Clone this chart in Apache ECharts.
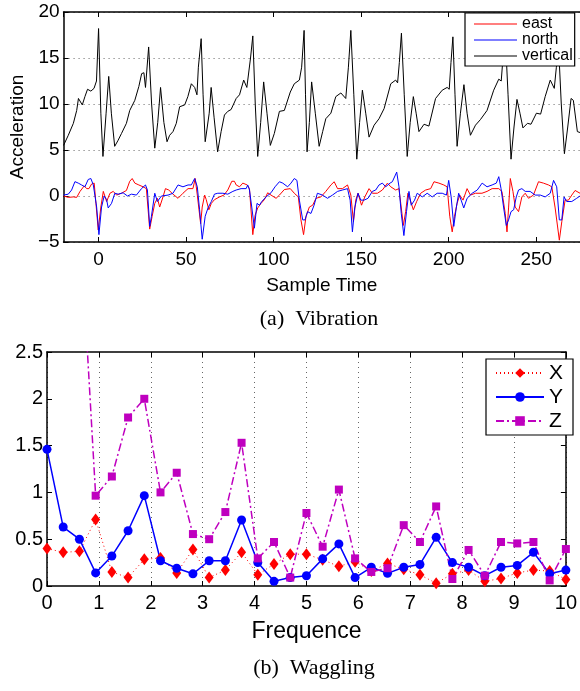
<!DOCTYPE html>
<html><head><meta charset="utf-8">
<script src="https://cdn.jsdelivr.net/npm/echarts@6/dist/echarts.min.js"></script>
<style>html,body{margin:0;padding:0;background:#fff}#c{width:580px;height:691px}</style>
</head><body><div id="c"></div>
<script>
// ---- (a) Vibration : [sample time, acceleration] ----
const eastData = [[-20,0],[-17.3,-0.15],[-14.4,-0.1],[-12.5,-0.15],[-10.6,0.5],[-8.2,1.1],[-6.8,0.8],[-5.5,0.8],[-4,1.3],[-2.5,1.4],[-1.5,-0.8],[-0.2,-3.7],[1.3,-1.2],[2.7,0.5],[3.6,0.65],[4.6,-0.6],[6.5,0.3],[8.4,0.5],[10.3,0.1],[13.1,0.3],[15.9,0.6],[17.8,1.6],[19.2,1.9],[20.7,1.4],[23,1.2],[25.4,1.0],[27.3,0.8],[28.3,-1.5],[29.2,-3.6],[30.6,-2.2],[32.1,-0.8],[33.6,-0.25],[34.9,-1.2],[36.8,-0.1],[38.2,0.8],[40.1,0.65],[42.5,0.2],[45.4,-0.25],[48.2,0.3],[51.1,0.8],[53.9,0.8],[55.2,1.9],[56.4,0.1],[58.3,-3.0],[59.2,-1.2],[60.6,0.1],[61.5,-0.4],[63,-1.5],[64.4,-0.8],[66.2,-0.4],[69.1,-0.1],[71.6,0.1],[73.8,0.65],[76.1,1.6],[77.6,1.6],[78.6,1.2],[80.5,1.0],[82.4,1.4],[84.9,1.2],[86.2,0.8],[88.1,-4.2],[89.4,-2.1],[90.9,-1.3],[92.8,-0.8],[94.7,-0.4],[96.6,0.35],[98.5,0.1],[101.4,-0.25],[103.3,0.1],[106.1,0.7],[109.5,0.8],[111.8,0.3],[114.1,-0.1],[115.6,-2.6],[117.1,-4.2],[118.5,-2.2],[120.4,-1.2],[122.3,-1.0],[124.2,-0.25],[127,-0.1],[129.8,0.5],[132.7,1.2],[134.6,1.55],[136.5,0.8],[139.3,0.8],[142.2,1.2],[144.1,0.1],[145.6,-2.8],[146.9,-0.45],[148.2,0.3],[150.2,-1.0],[152.1,-0.1],[154.5,0.8],[156.4,0.3],[159.3,0.3],[162.1,0.65],[165,1.4],[166.9,1.0],[169.7,0.65],[171.6,0.8],[172.6,-0.8],[174.1,-3.2],[175.4,-1.7],[176.7,0.3],[178.3,-0.6],[179.8,-1.5],[181.7,-0.6],[184,0.3],[186.8,0.65],[189.7,0.8],[191.6,1.55],[194.4,1.4],[197.2,1.2],[199.1,1.0],[200.6,-2.2],[202,-3.9],[203.3,-2.2],[204.8,-0.8],[206.3,0.1],[208.2,-0.45],[210.5,0.8],[212.4,0.1],[215.3,0.3],[219,0.3],[221.9,0.5],[224.8,0.8],[228.6,0.8],[230.4,0.5],[232.3,-1.9],[233.3,-3.9],[234.2,-1.3],[235.2,1.9],[236.7,0.5],[238,-1.2],[239.9,-1.7],[241.8,-0.1],[243.7,0.3],[245.6,-0.25],[248.4,0.1],[251.3,1.55],[254.1,1.4],[257,1.2],[258.9,1.0],[260.8,-1.3],[263.2,-4.8],[264.6,-2.8],[266.5,-0.45],[268.4,-0.45],[270.3,0.1],[272.2,0.6],[275,0.3]];

const northData = [[-20,0.1],[-17.3,0.2],[-15.4,0.65],[-13.5,1.56],[-11.6,1.4],[-9.7,1.2],[-7.8,1.0],[-5.9,1.8],[-4.4,1.9],[-3,1.2],[-1.1,-1.2],[0.2,-4.2],[1.7,-1.2],[3.2,0],[4.6,-0.4],[5.5,-1.3],[7.4,-0.8],[9.3,0.3],[11.2,0.2],[14,0.35],[16.5,0],[18.8,0.2],[21.6,0.1],[24.5,0.8],[26.8,1.2],[27.9,0.65],[29.2,-3.3],[30.2,-2.2],[32.1,0.3],[33.6,-0.6],[35.9,0],[39.7,0.1],[42.5,0.3],[45.4,1.2],[48.2,1.0],[51.1,1.2],[53,1.2],[54.9,1.9],[56.4,1.0],[57.7,-1.5],[59.2,-4.7],[60.9,-2.2],[62.5,-1.3],[64.4,-0.6],[66.2,0.2],[68.1,0.3],[71,0.3],[73.8,0.2],[76.7,0.5],[78.6,0.65],[81.4,0.8],[84.3,0.8],[85.2,1.2],[86.2,0.65],[87.5,-1.2],[89,-3.5],[90.5,-0.8],[91.9,-1.0],[93.2,-0.6],[95.7,-0.1],[98.5,0.35],[100.8,1.0],[103.3,1.55],[105.2,1.4],[108,1.0],[109.9,1.4],[111.8,1.9],[113.3,1.7],[114.7,-0.45],[116.6,-2.6],[117.9,-2.6],[119.4,-1.7],[121.3,-1.9],[123.1,-1.0],[125,0.3],[127.9,0.1],[130.8,-0.25],[133.6,0.1],[136.5,0.5],[139.3,0.65],[142.2,0.8],[143.7,-0.45],[145,-3.9],[146.3,-1.3],[148.2,0.3],[149.8,-0.45],[151.7,-0.45],[153.9,-0.25],[156.4,0.5],[158.3,0.65],[160.2,1.2],[162.1,1.4],[164,1.0],[166.5,1.4],[167.8,1.55],[170.3,2.6],[171.6,1.0],[172.9,-1.9],[174.4,-4.3],[175.9,-1.7],[177.3,0.5],[178.6,-1.0],[180.5,-0.45],[182,0.3],[184.9,-0.1],[187.7,0.3],[190.6,-0.1],[193.4,0.3],[196.3,0.3],[198.7,0.1],[200,1.7],[201.4,-0.1],[202.9,-3.3],[204.4,-1.2],[205.7,0.3],[207.1,-0.45],[208.6,-1.3],[210.5,-0.25],[213.4,0.3],[216.3,0.65],[219.1,1.4],[221.9,1.0],[224.8,1.2],[227.2,1.4],[228.6,2.1],[229.9,0.8],[231.4,-1.3],[232.9,-3.2],[234.2,-2.6],[235.6,-1.7],[237.1,-1.5],[238.6,-0.1],[239.9,0.65],[241.8,0.8],[243.7,0.5],[246.5,0.5],[249.4,0.1],[252.3,0.1],[255.1,-0.1],[258,0.3],[259.9,1.7],[260.8,1.9],[261.7,1.0],[263.2,-2.6],[264.6,-2.6],[265.9,-0.1],[267.4,-0.6],[270.3,-0.6],[273.1,-0.25],[275,0]];

const verticalData = [[-20,5.5],[-17.3,6.6],[-14.4,7.9],[-12.5,9.3],[-11.5,10.6],[-10.5,10.5],[-9.3,9.9],[-7.8,10.8],[-6.3,11.6],[-4.4,11.4],[-2.6,11.7],[-1.2,12.5],[0,18.2],[1.3,9],[2.5,4.3],[4.3,9],[5.8,13.0],[7.3,9],[9.2,5.4],[11,6],[13.1,6.8],[15.9,7.9],[17.8,9.3],[20.7,10.4],[23,11.9],[24.6,13.3],[25.9,13.4],[26.8,11.8],[27.3,11.9],[28.6,16.2],[30.3,10],[32.1,5.2],[33.8,8],[35.4,11.8],[37.3,8],[39.1,5.9],[40.6,6.6],[42.5,7],[44.4,7.9],[46.3,9.7],[49.2,9.9],[51,10.8],[53,12.2],[54.9,11.8],[56.2,11],[57,14],[58.6,17.1],[59.7,11],[60.9,5.9],[62,6.0],[63.2,9],[64.3,11.8],[66,8.5],[68,4.8],[70,7],[71.9,8.8],[73.8,9.2],[75.7,9.4],[78.6,10.6],[80.5,11],[82.9,12.6],[84.7,11.8],[85.8,12],[86.8,15],[88.1,17.4],[89.5,10],[90.9,4.3],[92.6,8],[94.3,12.4],[96.2,9],[98.1,5.5],[100.4,6.8],[103.3,9.2],[106.1,9.3],[109.5,11.3],[111.8,12.2],[114.7,12.6],[116,14],[117.4,18.0],[118.2,11],[119.1,4.8],[120.4,8],[121.7,12.4],[123.8,9],[126,5.4],[128,7],[129.8,8.4],[132.7,9.0],[135.5,10.8],[138.4,11.2],[141.2,10.6],[142.7,14],[144.1,18.0],[145.8,11],[147.5,4.0],[149.1,8],[150.7,11.5],[152.6,9],[154.5,6.4],[157.4,7.7],[160.2,8.4],[163.1,9.5],[166.9,12.2],[169.7,12.6],[170.8,12.3],[171.8,14.5],[173,17.7],[174.6,11],[176.3,4.3],[178,8],[179.8,10.8],[181.4,9],[183,7.0],[185.9,7.8],[188.7,7.6],[192.5,10.6],[196.3,11.5],[199.1,11.8],[200.3,11.6],[201.3,14.5],[202.4,17.3],[203.6,11],[204.8,5.4],[206.7,9],[208.7,12.1],[210.5,9],[212.4,6.6],[215.3,7.7],[218.1,8.3],[221.9,9.3],[225.7,11.5],[228.6,12.7],[230,12.5],[231,15],[232.3,17.5],[233.9,11],[235.6,4.0],[237.3,7.5],[239,10.5],[240.7,9],[242.4,7.4],[245,7.9],[247,7.8],[250.1,9.0],[252.5,8.9],[255.1,10.8],[258,12.6],[260.3,11.7],[261.5,14],[262.7,16.5],[264.3,10],[266.1,4.6],[268,7.5],[269.9,10.6],[271.2,10.4],[273.5,7.0],[275,6.9]];

// ---- (b) Waggling ----
const freq = [0,0.3125,0.625,0.9375,1.25,1.5625,1.875,2.1875,2.5,2.8125,3.125,3.4375,3.75,4.0625,4.375,4.6875,5,5.3125,5.625,5.9375,6.25,6.5625,6.875,7.1875,7.5,7.8125,8.125,8.4375,8.75,9.0625,9.375,9.6875,10];
const xVals = [0.40,0.36,0.37,0.71,0.15,0.09,0.285,0.30,0.14,0.39,0.09,0.17,0.36,0.12,0.235,0.34,0.34,0.28,0.21,0.26,0.16,0.24,0.18,0.12,0.03,0.13,0.17,0.05,0.08,0.14,0.17,0.16,0.07];
const yVals = [1.46,0.63,0.50,0.14,0.32,0.59,0.965,0.27,0.19,0.13,0.27,0.27,0.705,0.25,0.05,0.09,0.11,0.29,0.45,0.09,0.20,0.135,0.20,0.23,0.52,0.25,0.20,0.11,0.20,0.22,0.36,0.13,0.17];
const zVals = [null,null,4.0,0.965,1.17,1.80,2.0,1.0,1.21,0.555,0.50,0.79,1.53,0.295,0.47,0.09,0.78,0.42,1.03,0.295,0.15,0.19,0.65,0.47,0.85,0.075,0.385,0.11,0.47,0.455,0.47,0.06,0.395];

const topXTicks = [0,50,100,150,200,250];

const SANS = '"Liberation Sans", Arial, Helvetica, sans-serif';
const SERIF = '"Liberation Serif", "DejaVu Serif", serif';
const AX = {show:true, onZero:false, lineStyle:{color:'#000', width:1.5}};
const TICK = {show:true, inside:true, length:5, lineStyle:{color:'#000', width:1}};
const DOT = {show:true, lineStyle:{color:'#666', width:1, type:[1,4]}};
function minus(v){ return String(v).replace('-', '\u2212'); }

const chart = echarts.init(document.getElementById('c'), null, {renderer:'canvas'});
chart.setOption({
  animation:false,
  backgroundColor:'#fff',
  textStyle:{fontFamily:SANS, color:'#000'},
  grid:[
    {left:62, right:0, top:12, height:230},
    {left:47, right:4, top:352, height:234}
  ],
  xAxis:[
    {gridIndex:0, type:'value', min:-20, max:275, position:'bottom', axisLine:AX, axisTick:TICK, splitLine:{show:false},
     axisLabel:{fontSize:19, color:'#000', margin:8, fontFamily:SANS, showMinLabel:false, showMaxLabel:false,
       formatter:v=> topXTicks.indexOf(v)>=0 ? minus(v) : ''},
     name:'Sample Time', nameLocation:'middle', nameGap:34, nameTextStyle:{fontSize:19, color:'#000', fontFamily:SANS}},
    {gridIndex:0, type:'value', min:-20, max:275, position:'top', axisLine:AX, axisTick:TICK, axisLabel:{show:false}, splitLine:{show:false}},
    {gridIndex:1, type:'value', min:0, max:10, interval:1, position:'bottom', axisLine:AX, axisTick:TICK, splitLine:DOT,
     axisLabel:{fontSize:20, color:'#000', margin:7, fontFamily:SANS},
     name:'Frequence', nameLocation:'middle', nameGap:34, nameTextStyle:{fontSize:23, color:'#000', fontFamily:SANS}},
    {gridIndex:1, type:'value', min:0, max:10, interval:1, position:'top', axisLine:AX, axisTick:TICK, axisLabel:{show:false}, splitLine:{show:false}}
  ],
  yAxis:[
    {gridIndex:0, type:'value', min:-5, max:20, interval:5, axisLine:AX, axisTick:TICK, splitLine:DOT,
     axisLabel:{fontSize:19, color:'#000', margin:4, fontFamily:SANS, formatter:v=>minus(v)},
     name:'Acceleration', nameLocation:'middle', nameGap:35, nameTextStyle:{fontSize:19, color:'#000', fontFamily:SANS}},
    {gridIndex:1, type:'value', min:0, max:2.5, interval:0.5, axisLine:AX, axisTick:TICK, splitLine:{show:false},
     axisLabel:{fontSize:20, color:'#000', margin:4, fontFamily:SANS}},
    {gridIndex:1, type:'value', min:0, max:2.5, interval:0.5, position:'right', axisLine:AX, axisTick:TICK, splitLine:{show:false}, axisLabel:{show:false}}
  ],
  legend:[
    {data:['east','north','vertical'], orient:'vertical', left:465, top:13, icon:'rect', itemWidth:43, itemHeight:1.2, itemGap:0,
     padding:[3,2,2,9], backgroundColor:'#fff', borderColor:'#000', borderWidth:1.2, borderRadius:0,
     textStyle:{fontSize:16, lineHeight:13.5, color:'#000', fontFamily:SANS}},
    {data:['X','Y','Z'], orient:'vertical', left:486, top:359, itemWidth:48, itemHeight:12, itemGap:0,
     padding:[2,10,2,9], backgroundColor:'#fff', borderColor:'#000', borderWidth:1.2, borderRadius:0,
     textStyle:{fontSize:21, lineHeight:24, color:'#000', fontFamily:SANS}}
  ],
  graphic:[
    {type:'text', x:319, y:319, style:{text:'(a)  Vibration', font:'22px ' + SERIF, fill:'#000', textAlign:'center', textVerticalAlign:'middle'}},
    {type:'text', x:314, y:668, style:{text:'(b)  Waggling', font:'22px ' + SERIF, fill:'#000', textAlign:'center', textVerticalAlign:'middle'}}
  ],
  series:[
    {name:'east', type:'line', xAxisIndex:0, yAxisIndex:0, data:eastData, symbol:'none', showSymbol:false,
     lineStyle:{color:'#ff0000', width:1}, itemStyle:{color:'#ff0000'}},
    {name:'north', type:'line', xAxisIndex:0, yAxisIndex:0, data:northData, symbol:'none', showSymbol:false,
     lineStyle:{color:'#0000ff', width:1}, itemStyle:{color:'#0000ff'}},
    {name:'vertical', type:'line', xAxisIndex:0, yAxisIndex:0, data:verticalData, symbol:'none', showSymbol:false,
     lineStyle:{color:'#000000', width:1}, itemStyle:{color:'#000000'}},
    {name:'X', type:'line', xAxisIndex:2, yAxisIndex:1, data:freq.map((f,i)=>[f,xVals[i]]), symbol:'diamond', symbolSize:[9,12], showAllSymbol:true,
     lineStyle:{color:'#ff0000', width:1, type:[1,3]}, itemStyle:{color:'#ff0000'}},
    {name:'Y', type:'line', xAxisIndex:2, yAxisIndex:1, data:freq.map((f,i)=>[f,yVals[i]]), symbol:'circle', symbolSize:9, showAllSymbol:true,
     lineStyle:{color:'#0000ff', width:1.5}, itemStyle:{color:'#0000ff'}},
    {name:'Z', type:'line', xAxisIndex:2, yAxisIndex:1, data:freq.map((f,i)=>[f,zVals[i]]), symbol:'rect', symbolSize:8, showAllSymbol:true,
     lineStyle:{color:'#bf00bf', width:1.5, type:[8,3,2,3]}, itemStyle:{color:'#bf00bf'}}
  ]
});
</script>
</body></html>
